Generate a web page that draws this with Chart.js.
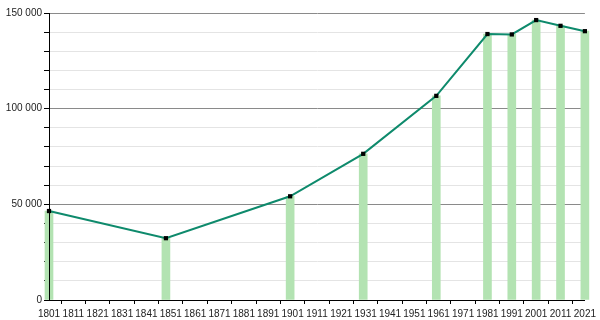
<!DOCTYPE html>
<html>
<head>
<meta charset="utf-8">
<script src="https://cdn.jsdelivr.net/npm/chart.js@4/dist/chart.umd.min.js"></script>
<style>
  html, body { margin: 0; padding: 0; background: #fff; }
  #wrap { width: 600px; height: 320px; }
</style>
</head>
<body>
<div id="wrap"><canvas id="popChart"></canvas></div>
<script>
const years = [1801, 1849, 1900, 1930, 1960, 1981, 1991, 2001, 2011, 2021];
const population = [46500, 32300, 54200, 76400, 106700, 139000, 138800, 146300, 143300, 140500];
const yearTicks = [1801, 1811, 1821, 1831, 1841, 1851, 1861, 1871, 1881, 1891, 1901,
    1911, 1921, 1931, 1941, 1951, 1961, 1971, 1981, 1991, 2001, 2011, 2021];

const points = years.map((y, i) => ({ x: y, y: population[i] }));

Chart.defaults.font.family = '"Liberation Sans", Arial, sans-serif';
Chart.defaults.color = '#222';

// the bars are drawn unclipped, so put the y axis line back on top of them
const axisOnTop = {
    id: 'axisOnTop',
    afterDatasetsDraw(chart) {
        const { ctx, chartArea } = chart;
        ctx.save();
        ctx.strokeStyle = '#000';
        ctx.lineWidth = 1;
        ctx.beginPath();
        ctx.moveTo(chartArea.left + 0.5, chartArea.top);
        ctx.lineTo(chartArea.left + 0.5, chartArea.bottom);
        ctx.stroke();
        ctx.restore();
    }
};

new Chart(document.getElementById('popChart'), {
    data: {
        datasets: [{
            type: 'line',
            data: points,
            borderColor: '#0e8a6c',
            borderWidth: 2,
            tension: 0,
            pointStyle: 'rect',
            pointRadius: 3,
            pointBorderWidth: 0,
            pointBackgroundColor: '#000',
            clip: false,
            order: 1
        }, {
            type: 'bar',
            data: points,
            backgroundColor: '#b3e3b2',
            barThickness: 8,
            clip: false,
            order: 2
        }]
    },
    options: {
        responsive: true,
        maintainAspectRatio: false,
        animation: false,
        layout: { padding: { top: 13, right: 12, left: 0, bottom: 0 } },
        plugins: {
            legend: { display: false },
            tooltip: { enabled: false }
        },
        scales: {
            x: {
                type: 'linear',
                min: 1801,
                max: 2021,
                offset: false,
                afterBuildTicks: scale => {
                    scale.ticks = yearTicks.map(v => ({ value: v }));
                },
                afterFit: scale => { scale.height = 20; },
                grid: {
                    drawOnChartArea: false,
                    tickLength: 4,
                    tickColor: '#000'
                },
                border: { color: '#000', width: 1 },
                ticks: {
                    autoSkip: false,
                    maxRotation: 0,
                    padding: 4,
                    font: { size: 10 },
                    callback: v => String(v)
                }
            },
            y: {
                min: 0,
                max: 150000,
                afterFit: scale => { scale.width = 49; },
                grid: {
                    color: ctx => ctx.tick && ctx.tick.value % 50000 === 0 ? '#8a8a8a' : '#e4e4e4',
                    tickColor: '#000',
                    tickLength: 5
                },
                border: { color: '#000', width: 1 },
                ticks: {
                    stepSize: 10000,
                    padding: 2,
                    font: { size: 10 },
                    callback: v => v % 50000 === 0 ? v.toLocaleString('fr-FR').replace(/\s/g, ' ') : ''
                }
            }
        }
    },
    plugins: [axisOnTop]
});
</script>
</body>
</html>
